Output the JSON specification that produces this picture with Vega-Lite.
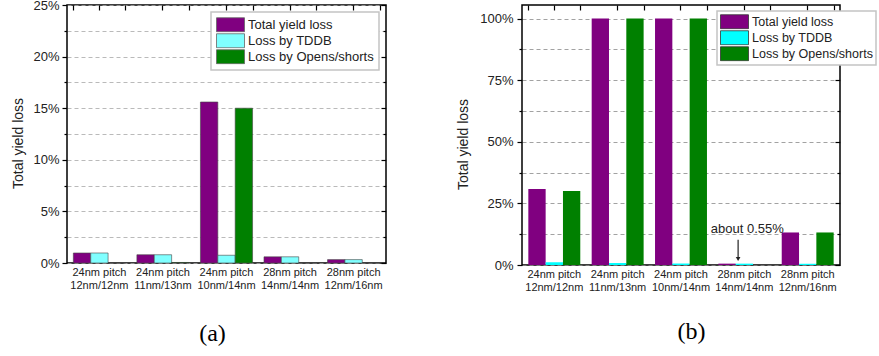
{
  "$schema": "https://vega.github.io/schema/vega-lite/v6.json",
  "background": "white",
  "padding": {"left": 11, "top": -2, "right": 0, "bottom": 0},
  "config": {
    "font": "Liberation Sans",
    "view": {"stroke": "black", "strokeWidth": 1.5},
    "axis": {"labelColor": "#222", "titleColor": "#222", "titleFontWeight": "normal"},
    "legend": {
      "symbolType": "M-1,-0.5H1V0.5H-1Z",
      "symbolSize": 784,
      "symbolOpacity": 1,
      "symbolStrokeWidth": 0.8,
      "clipHeight": 15.5,
      "labelFontSize": 13,
      "labelColor": "#222",
      "labelOffset": 3,
      "rowPadding": 0,
      "padding": 5,
      "strokeColor": "#c4c4c4",
      "fillColor": "white",
      "strokeWidth": 1.5,
      "title": null
    }
  },
  "datasets": {
    "loss": [
      {"panel": "a", "pitch": "24nm pitch 12nm/12nm", "series": "Total yield loss", "value": 0.97},
      {"panel": "a", "pitch": "24nm pitch 12nm/12nm", "series": "Loss by TDDB", "value": 0.97},
      {"panel": "a", "pitch": "24nm pitch 12nm/12nm", "series": "Loss by Opens/shorts", "value": 0},
      {"panel": "a", "pitch": "24nm pitch 11nm/13nm", "series": "Total yield loss", "value": 0.8},
      {"panel": "a", "pitch": "24nm pitch 11nm/13nm", "series": "Loss by TDDB", "value": 0.8},
      {"panel": "a", "pitch": "24nm pitch 11nm/13nm", "series": "Loss by Opens/shorts", "value": 0.05},
      {"panel": "a", "pitch": "24nm pitch 10nm/14nm", "series": "Total yield loss", "value": 15.6},
      {"panel": "a", "pitch": "24nm pitch 10nm/14nm", "series": "Loss by TDDB", "value": 0.75},
      {"panel": "a", "pitch": "24nm pitch 10nm/14nm", "series": "Loss by Opens/shorts", "value": 15.0},
      {"panel": "a", "pitch": "28nm pitch 14nm/14nm", "series": "Total yield loss", "value": 0.6},
      {"panel": "a", "pitch": "28nm pitch 14nm/14nm", "series": "Loss by TDDB", "value": 0.6},
      {"panel": "a", "pitch": "28nm pitch 14nm/14nm", "series": "Loss by Opens/shorts", "value": 0},
      {"panel": "a", "pitch": "28nm pitch 12nm/16nm", "series": "Total yield loss", "value": 0.33},
      {"panel": "a", "pitch": "28nm pitch 12nm/16nm", "series": "Loss by TDDB", "value": 0.33},
      {"panel": "a", "pitch": "28nm pitch 12nm/16nm", "series": "Loss by Opens/shorts", "value": 0},
      {"panel": "b", "pitch": "24nm pitch 12nm/12nm", "series": "Total yield loss", "value": 30.8},
      {"panel": "b", "pitch": "24nm pitch 12nm/12nm", "series": "Loss by TDDB", "value": 1.1},
      {"panel": "b", "pitch": "24nm pitch 12nm/12nm", "series": "Loss by Opens/shorts", "value": 30.0},
      {"panel": "b", "pitch": "24nm pitch 11nm/13nm", "series": "Total yield loss", "value": 100},
      {"panel": "b", "pitch": "24nm pitch 11nm/13nm", "series": "Loss by TDDB", "value": 0.8},
      {"panel": "b", "pitch": "24nm pitch 11nm/13nm", "series": "Loss by Opens/shorts", "value": 100},
      {"panel": "b", "pitch": "24nm pitch 10nm/14nm", "series": "Total yield loss", "value": 100},
      {"panel": "b", "pitch": "24nm pitch 10nm/14nm", "series": "Loss by TDDB", "value": 0.6},
      {"panel": "b", "pitch": "24nm pitch 10nm/14nm", "series": "Loss by Opens/shorts", "value": 100},
      {"panel": "b", "pitch": "28nm pitch 14nm/14nm", "series": "Total yield loss", "value": 0.55},
      {"panel": "b", "pitch": "28nm pitch 14nm/14nm", "series": "Loss by TDDB", "value": 0.55},
      {"panel": "b", "pitch": "28nm pitch 14nm/14nm", "series": "Loss by Opens/shorts", "value": 0},
      {"panel": "b", "pitch": "28nm pitch 12nm/16nm", "series": "Total yield loss", "value": 13.2},
      {"panel": "b", "pitch": "28nm pitch 12nm/16nm", "series": "Loss by TDDB", "value": 0.5},
      {"panel": "b", "pitch": "28nm pitch 12nm/16nm", "series": "Loss by Opens/shorts", "value": 13.2}
    ],
    "note": [
      {"pitch": "28nm pitch 14nm/14nm", "text": "about 0.55%"}
    ]
  },
  "hconcat": [
    {
      "width": 319,
      "height": 258,
      "data": {"name": "loss"},
      "transform": [{"filter": "datum.panel === 'a'"}],
      "layer": [
        {
          "mark": {"type": "bar", "stroke": "#444", "strokeWidth": 0.6},
          "encoding": {
            "x": {
              "field": "pitch", "type": "nominal", "sort": null,
              "scale": {"paddingInner": 0.18, "paddingOuter": 0.1},
              "axis": {
                "orient": "bottom",
                "labelAngle": 0,
                "labelExpr": "[slice(datum.label, 0, 10), slice(datum.label, 11)]",
                "labelFontSize": 11,
                "labelLineHeight": 13,
                "labelPadding": 3,
                "ticks": false,
                "domain": false,
                "title": "(a)",
                "titleFont": "Liberation Serif",
                "titleFontSize": 24,
                "titleColor": "black",
                "titleX": 145,
                "titleY": 70,
                "titleBaseline": "middle"
              }
            },
            "xOffset": {
              "field": "series", "type": "nominal", "sort": ["Total yield loss", "Loss by TDDB", "Loss by Opens/shorts"],
              "scale": {"paddingInner": 0, "paddingOuter": 0}
            },
            "y": {
              "field": "value", "type": "quantitative",
              "scale": {"domain": [0, 25], "nice": false},
              "axis": {
                "orient": "left",
                "values": [0, 2.5, 5, 7.5, 10, 12.5, 15, 17.5, 20, 22.5, 25],
                "labelExpr": "datum.value % 5 === 0 ? datum.value + '%' : ''",
                "labelFontSize": 13,
                "labelPadding": 3,
                "tickColor": "black",
                "tickWidth": 1.2,
                "tickSize": {"condition": {"test": "datum.value % 5 === 0", "value": 5}, "value": 3},
                "domain": false,
                "grid": true,
                "gridColor": "#a8a8a8",
                "gridDash": [4, 3],
                "gridWidth": 0.8,
                "title": "Total yield loss",
                "titleFontSize": 14,
                "titlePadding": 7,
                "titleY": 138
              }
            },
            "color": {
              "field": "series", "type": "nominal",
              "sort": ["Total yield loss", "Loss by TDDB", "Loss by Opens/shorts"],
              "scale": {"domain": ["Total yield loss", "Loss by TDDB", "Loss by Opens/shorts"], "range": ["#800080", "#80ffff", "#008000"]},
              "legend": {"orient": "top-right", "offset": 7, "symbolStrokeColor": "#666"}
            }
          }
        },
        {
          "mark": {"type": "point", "opacity": 0},
          "encoding": {
            "x": {
              "field": "pitch", "type": "nominal", "sort": null,
              "axis": {"orient": "top", "labels": false, "domain": false, "title": null, "tickSize": -5, "tickWidth": 1.2, "tickColor": "black"}
            },
            "y": {
              "field": "value", "type": "quantitative",
              "axis": {
                "orient": "right",
                "values": [0, 2.5, 5, 7.5, 10, 12.5, 15, 17.5, 20, 22.5, 25],
                "labels": false, "domain": false, "grid": false, "title": null,
                "tickColor": "black", "tickWidth": 1.2,
                "tickSize": {"condition": {"test": "datum.value % 5 === 0", "value": -5}, "value": -3}
              }
            }
          }
        },
        {
          "mark": {"type": "point", "opacity": 0},
          "encoding": {
            "x": {
              "field": "pitch", "type": "nominal", "sort": null,
              "axis": {"orient": "top", "labels": false, "domain": false, "title": null, "tickBand": "extent", "tickSize": -5, "tickWidth": 1.2, "tickColor": "black"}
            }
          }
        }
      ],
      "resolve": {"axis": {"x": "independent", "y": "independent"}}
    },
    {
      "width": 318,
      "height": 260,
      "layer": [
        {
          "data": {"name": "loss"},
          "transform": [{"filter": "datum.panel === 'b'"}],
          "layer": [
            {
              "mark": {"type": "bar"},
              "encoding": {
                "x": {
                  "field": "pitch", "type": "nominal", "sort": null,
                  "scale": {"paddingInner": 0.18, "paddingOuter": 0.1},
                  "axis": {
                    "orient": "bottom",
                    "labelAngle": 0,
                    "labelExpr": "[slice(datum.label, 0, 10), slice(datum.label, 11)]",
                    "labelFontSize": 11,
                    "labelLineHeight": 13,
                    "labelPadding": 3,
                    "ticks": false,
                    "domain": false,
                    "title": "(b)",
                    "titleFont": "Liberation Serif",
                    "titleFontSize": 24,
                    "titleColor": "black",
                    "titleX": 169,
                    "titleY": 66,
                    "titleBaseline": "middle"
                  }
                },
                "xOffset": {
                  "field": "series", "type": "nominal", "sort": ["Total yield loss", "Loss by TDDB", "Loss by Opens/shorts"],
                  "scale": {"paddingInner": 0, "paddingOuter": 0}
                },
                "y": {
                  "field": "value", "type": "quantitative",
                  "scale": {"domain": [0, 105.5], "nice": false},
                  "axis": {
                    "orient": "left",
                    "values": [0, 12.5, 25, 37.5, 50, 62.5, 75, 87.5, 100],
                    "labelExpr": "datum.value % 25 === 0 ? datum.value + '%' : ''",
                    "labelFontSize": 13,
                    "labelPadding": 4,
                    "tickColor": "black",
                    "tickWidth": 1.2,
                    "tickSize": {"condition": {"test": "datum.value % 25 === 0", "value": 5}, "value": 3},
                    "domain": false,
                    "grid": true,
                    "gridColor": "#8a8a8a",
                    "gridDash": [4, 3],
                    "gridWidth": 0.8,
                    "title": "Total yield loss",
                    "titleFontSize": 14,
                    "titlePadding": 9,
                    "titleY": 139
                  }
                },
                "color": {
                  "field": "series", "type": "nominal",
                  "sort": ["Total yield loss", "Loss by TDDB", "Loss by Opens/shorts"],
                  "scale": {"domain": ["Total yield loss", "Loss by TDDB", "Loss by Opens/shorts"], "range": ["#800080", "#00ffff", "#008000"]},
                  "legend": {"orient": "none", "legendX": 195, "legendY": 6, "symbolStrokeColor": "#333", "labelFontSize": 12.5, "padding": 3}
                }
              }
            },
            {
              "mark": {"type": "point", "opacity": 0},
              "encoding": {
                "x": {
                  "field": "pitch", "type": "nominal", "sort": null,
                  "axis": {"orient": "top", "labels": false, "domain": false, "title": null, "tickSize": -5, "tickWidth": 1.2, "tickColor": "black"}
                },
                "y": {
                  "field": "value", "type": "quantitative",
                  "axis": {
                    "orient": "right",
                    "values": [0, 12.5, 25, 37.5, 50, 62.5, 75, 87.5, 100],
                    "labels": false, "domain": false, "grid": false, "title": null,
                    "tickColor": "black", "tickWidth": 1.2,
                    "tickSize": {"condition": {"test": "datum.value % 25 === 0", "value": -5}, "value": -3}
                  }
                }
              }
            },
            {
              "mark": {"type": "point", "opacity": 0},
              "encoding": {
                "x": {
                  "field": "pitch", "type": "nominal", "sort": null,
                  "axis": {"orient": "top", "labels": false, "domain": false, "title": null, "tickBand": "extent", "tickSize": -5, "tickWidth": 1.2, "tickColor": "black"}
                }
              }
            }
          ],
          "resolve": {"axis": {"x": "independent", "y": "independent"}}
        },
        {
          "data": {"name": "note"},
          "layer": [
            {
              "mark": {"type": "text", "fontSize": 13, "color": "#222", "dx": 3, "baseline": "middle"},
              "encoding": {
                "x": {"field": "pitch", "type": "nominal", "sort": null, "axis": null},
                "y": {"datum": 14.6, "type": "quantitative", "axis": null},
                "text": {"field": "text"}
              }
            },
            {
              "mark": {"type": "rule", "color": "#222", "strokeWidth": 1.2},
              "encoding": {
                "x": {"field": "pitch", "type": "nominal", "sort": null, "bandPosition": 0.38, "axis": null},
                "y": {"datum": 10.2, "type": "quantitative", "axis": null},
                "y2": {"datum": 2.5}
              }
            },
            {
              "mark": {"type": "point", "shape": "triangle-down", "filled": true, "color": "#222", "size": 22, "opacity": 1},
              "encoding": {
                "x": {"field": "pitch", "type": "nominal", "sort": null, "bandPosition": 0.38, "axis": null},
                "y": {"datum": 2.4, "type": "quantitative", "axis": null}
              }
            }
          ]
        }
      ]
    }
  ],
  "spacing": 68,
  "resolve": {
    "scale": {"x": "independent", "y": "independent", "color": "independent", "xOffset": "independent"},
    "legend": {"color": "independent"}
  }
}
